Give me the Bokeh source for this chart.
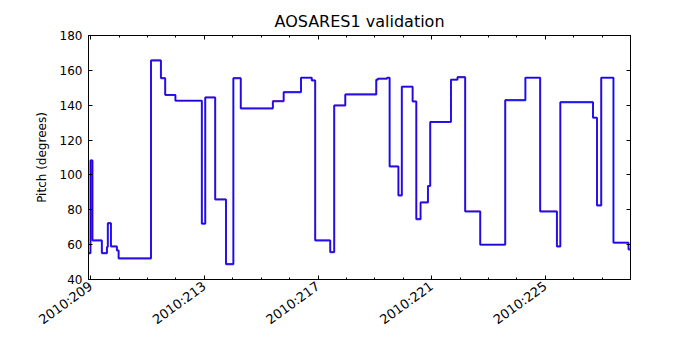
import math
from bokeh.plotting import figure
from bokeh.models import Range1d, FixedTicker, LinearAxis, ColumnDataSource
from bokeh.embed import file_html
from bokeh.resources import INLINE

# Day-of-year (2010) at which each step starts; last entry is the end of data
times = [208.92, 208.99, 209.06, 209.39, 209.57, 209.60, 209.71, 209.92, 209.98,
         211.12, 211.47, 211.62, 211.98, 212.91, 213.03, 213.38, 213.76, 214.02,
         214.28, 215.41, 215.79, 216.40, 216.78, 216.90, 217.43, 217.57, 217.96,
         219.05, 219.11, 219.43, 219.52, 219.83, 219.95, 220.33, 220.46, 220.61,
         220.87, 220.95, 221.68, 221.91, 222.18, 222.71, 223.59, 224.30, 224.82,
         225.41, 225.53, 226.68, 226.82, 226.97, 227.40, 227.93, 228.00]

# Telemetry pitch (blue)
pitch_tlm = [55.1, 108.3, 62.4, 55.1, 58.6, 72.3, 58.9, 56.6, 52.1,
             165.7, 155.5, 145.8, 142.5, 72.0, 144.4, 85.9, 48.8, 155.5,
             138.1, 142.3, 147.5, 155.7, 154.2, 62.4, 55.7, 139.8, 146.2,
             154.6, 155.2, 155.7, 104.8, 88.2, 150.6, 142.1, 74.6, 84.2,
             93.6, 130.3, 154.6, 156.1, 79.0, 59.9, 142.9, 155.7, 79.0,
             58.9, 141.7, 132.8, 82.5, 155.7, 61.1, 57.2, 57.2]

# Predicted pitch (red)
pitch_pred = [55.3, 108.5, 62.6, 55.3, 58.8, 72.5, 59.1, 56.8, 52.3,
              165.9, 155.7, 146.0, 142.7, 72.2, 144.6, 86.1, 49.0, 155.7,
              138.3, 142.5, 147.7, 155.9, 154.4, 62.6, 55.9, 140.0, 146.4,
              154.8, 155.4, 155.9, 105.0, 88.4, 150.8, 142.3, 74.8, 84.4,
              93.8, 130.5, 154.8, 156.3, 79.2, 60.1, 143.1, 155.9, 79.2,
              59.1, 141.9, 133.0, 82.7, 155.9, 61.3, 57.4, 57.4]

tick_days = [209, 213, 217, 221, 225]
tick_labels = ["2010:209", "2010:213", "2010:217", "2010:221", "2010:225"]
minor_days = list(range(208, 230))
y_ticks = [40, 60, 80, 100, 120, 140, 160, 180]

FONT = "DejaVu Sans"

p = figure(width=700, height=350, output_backend="svg", toolbar_location=None,
           x_range=Range1d(208.92, 228.0), y_range=Range1d(40, 180),
           x_axis_location=None, y_axis_location=None,
           min_border_left=88, min_border_right=70, min_border_top=35,
           min_border_bottom=71, title="AOSARES1 validation")
p.title.align = "center"
p.title.text_font = FONT
p.title.text_font_size = "16px"
p.title.text_font_style = "normal"
p.title.text_color = "black"
p.xgrid.visible = False
p.ygrid.visible = False
p.outline_line_color = "black"
p.outline_line_width = 1
p.outline_line_alpha = 1
p.background_fill_color = "white"
p.border_fill_color = "white"

xt = FixedTicker(ticks=tick_days, minor_ticks=minor_days)
yt = FixedTicker(ticks=y_ticks, minor_ticks=[])

def style(ax, labels=True, size="12px"):
    ax.axis_line_color = "black"
    ax.major_tick_in = 4
    ax.major_tick_out = 0
    ax.minor_tick_in = 2
    ax.minor_tick_out = 0
    ax.major_tick_line_color = "black"
    ax.minor_tick_line_color = "black"
    ax.major_label_text_font = FONT
    ax.major_label_text_font_size = size if labels else "0px"
    ax.major_label_text_color = "black"
    ax.major_label_standoff = 6 if labels else 0

xb = LinearAxis(ticker=xt)
style(xb, size="13px")
xb.major_label_overrides = {d: l for d, l in zip(tick_days, tick_labels)}
xb.major_label_orientation = 0.63
xb.major_label_standoff = 5
p.add_layout(xb, "below")

xa = LinearAxis(ticker=xt)
style(xa, labels=False)
xa.major_label_overrides = {d: "" for d in tick_days}
p.add_layout(xa, "above")

yl = LinearAxis(ticker=yt, axis_label="Pitch (degrees)")
style(yl)
yl.axis_label_text_font = FONT
yl.axis_label_text_font_size = "12px"
yl.axis_label_text_font_style = "normal"
yl.axis_label_text_color = "black"
yl.axis_label_standoff = 8
p.add_layout(yl, "left")

yr = LinearAxis(ticker=yt)
style(yr, labels=False)
yr.major_label_overrides = {v: "" for v in y_ticks}
p.add_layout(yr, "right")

src = ColumnDataSource(dict(t=times, tlm=pitch_tlm, pred=pitch_pred))
p.step("t", "pred", source=src, mode="after", line_color="red", line_width=1.0)
p.step("t", "tlm", source=src, mode="after", line_color="blue", line_width=2,
       line_alpha=0.85)

open("out.html", "w").write(file_html(p, INLINE))
